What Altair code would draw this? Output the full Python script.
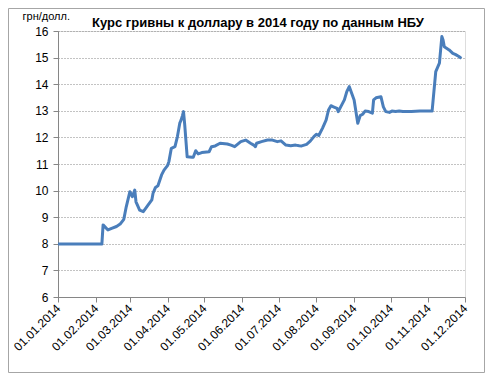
import altair as alt
import pandas as pd

dates = ["2014-01-01", "2014-02-06", "2014-02-07", "2014-02-11", "2014-02-14", "2014-02-18",
         "2014-02-21", "2014-02-24", "2014-02-26", "2014-03-01", "2014-03-03", "2014-03-05",
         "2014-03-06", "2014-03-09", "2014-03-12", "2014-03-16", "2014-03-19", "2014-03-20",
         "2014-03-22", "2014-03-24", "2014-03-27", "2014-03-29", "2014-04-01", "2014-04-02",
         "2014-04-04", "2014-04-07", "2014-04-09", "2014-04-11", "2014-04-12", "2014-04-13",
         "2014-04-14", "2014-04-15", "2014-04-17", "2014-04-21", "2014-04-22", "2014-04-24",
         "2014-04-26", "2014-04-29", "2014-05-05", "2014-05-07", "2014-05-10", "2014-05-14",
         "2014-05-20", "2014-05-23", "2014-05-26", "2014-05-31", "2014-06-04", "2014-06-08",
         "2014-06-11", "2014-06-12", "2014-06-13", "2014-06-17", "2014-06-22", "2014-06-26",
         "2014-06-30", "2014-07-03", "2014-07-07", "2014-07-11", "2014-07-15", "2014-07-18",
         "2014-07-20", "2014-07-24", "2014-07-27", "2014-07-30", "2014-08-01", "2014-08-03",
         "2014-08-06", "2014-08-09", "2014-08-11", "2014-08-13", "2014-08-15", "2014-08-18",
         "2014-08-19", "2014-08-21", "2014-08-24", "2014-08-26", "2014-08-28", "2014-08-30",
         "2014-09-01", "2014-09-04", "2014-09-06", "2014-09-08", "2014-09-10", "2014-09-13",
         "2014-09-16", "2014-09-17", "2014-09-19", "2014-09-23", "2014-09-25", "2014-09-27",
         "2014-09-30", "2014-10-02", "2014-10-05", "2014-10-08", "2014-10-11", "2014-10-18",
         "2014-10-25", "2014-11-04", "2014-11-07", "2014-11-10", "2014-11-12", "2014-11-13",
         "2014-11-14", "2014-11-18", "2014-11-21", "2014-11-23", "2014-11-26", "2014-11-28"]

rates = [7.99, 7.99, 8.71, 8.52, 8.58, 8.65,
         8.74, 8.92, 9.39, 9.96, 9.77, 10.02,
         9.58, 9.27, 9.21, 9.46, 9.65, 9.90,
         10.12, 10.18, 10.59, 10.77, 10.95, 11.09,
         11.59, 11.65, 12.03, 12.55, 12.65, 12.80,
         12.97, 12.47, 11.27, 11.25, 11.25, 11.50,
         11.38, 11.43, 11.46, 11.65, 11.68, 11.78,
         11.75, 11.71, 11.65, 11.84, 11.90, 11.78,
         11.70, 11.65, 11.78, 11.84, 11.90, 11.90,
         11.84, 11.87, 11.71, 11.69, 11.71, 11.69,
         11.68, 11.74, 11.86, 12.03, 12.12, 12.07,
         12.34, 12.65, 13.03, 13.19, 13.15, 13.09,
         12.97, 13.15, 13.41, 13.72, 13.91, 13.66,
         13.41, 12.53, 12.82, 12.87, 12.99, 12.97,
         12.91, 13.41, 13.49, 13.53, 13.15, 12.97,
         12.94, 12.99, 12.97, 12.99, 12.97, 12.97,
         12.99, 12.99, 14.47, 14.79, 15.79, 15.66,
         15.41, 15.29, 15.16, 15.12, 15.04, 14.97]

tick_months = list(range(1, 13))
y_ticks = [6, 7, 8, 9, 10, 11, 12, 13, 14, 15, 16]

title_text = "Курс гривны к доллару в 2014  году по данным НБУ"
y_title = "грн/долл."

df = pd.DataFrame({"date": pd.to_datetime(dates), "rate": rates})

FONT = "Liberation Sans"
GRAY = "#868686"
W, H = 407, 266
PL, PT, PR, PB = 50, 23, 20, 76

x_enc = alt.X(
    "date:T",
    scale=alt.Scale(domain=[alt.DateTime(year=2014, month=1, date=1),
                            alt.DateTime(year=2014, month=12, date=1)]),
    axis=alt.Axis(
        values=[alt.DateTime(year=2014, month=m, date=1) for m in tick_months],
        format="%d.%m.%Y", labelAngle=-45, labelAlign="right", labelBaseline="middle",
        labelPadding=4, tickSize=5, tickColor=GRAY, domainColor=GRAY, grid=False,
        labelFont=FONT, labelFontSize=12, labelColor="#000000", title=None,
        labelOverlap=False, labelFlush=False,
    ),
)
y_enc = alt.Y(
    "rate:Q",
    scale=alt.Scale(domain=[6, 16], nice=False, zero=False),
    axis=alt.Axis(
        values=y_ticks, tickSize=5, tickColor=GRAY, domainColor=GRAY,
        grid=True, gridColor=GRAY, gridDash=[1, 2], gridWidth=1,
        labelFont=FONT, labelFontSize=12, labelColor="#000000", labelPadding=5,
        title=y_title, titleAngle=0, titleAlign="left", titleBaseline="alphabetic",
        titleX=-36, titleY=-12, titleFont=FONT, titleFontSize=11, titleFontWeight="normal",
        titleColor="#000000",
    ),
)

line = alt.Chart(df).mark_line(color="#4A7EBB", strokeWidth=3, strokeJoin="round").encode(
    x=x_enc, y=y_enc
)

frame = alt.Chart(pd.DataFrame({"a": [0]})).mark_rect(
    fill=None, stroke="#A6A6A6", strokeWidth=1
).encode(
    x=alt.value(-PL + 0.5), x2=alt.value(W + PR - 0.5),
    y=alt.value(-PT + 0.5), y2=alt.value(H + PB - 0.5),
)

title = alt.Chart(pd.DataFrame({"t": [title_text]})).mark_text(
    font=FONT, fontSize=13, fontWeight="bold", color="#000000",
    align="center", baseline="alphabetic",
).encode(text="t:N", x=alt.value(200), y=alt.value(-4))

chart = alt.layer(line, frame, title).properties(
    width=W, height=H,
    autosize=alt.AutoSizeParams(type="none"),
    padding={"left": PL, "top": PT, "right": PR, "bottom": PB},
).configure_view(stroke=None).configure(background="white")

chart.save("out.html", embed_options={"renderer": "svg", "actions": False})
